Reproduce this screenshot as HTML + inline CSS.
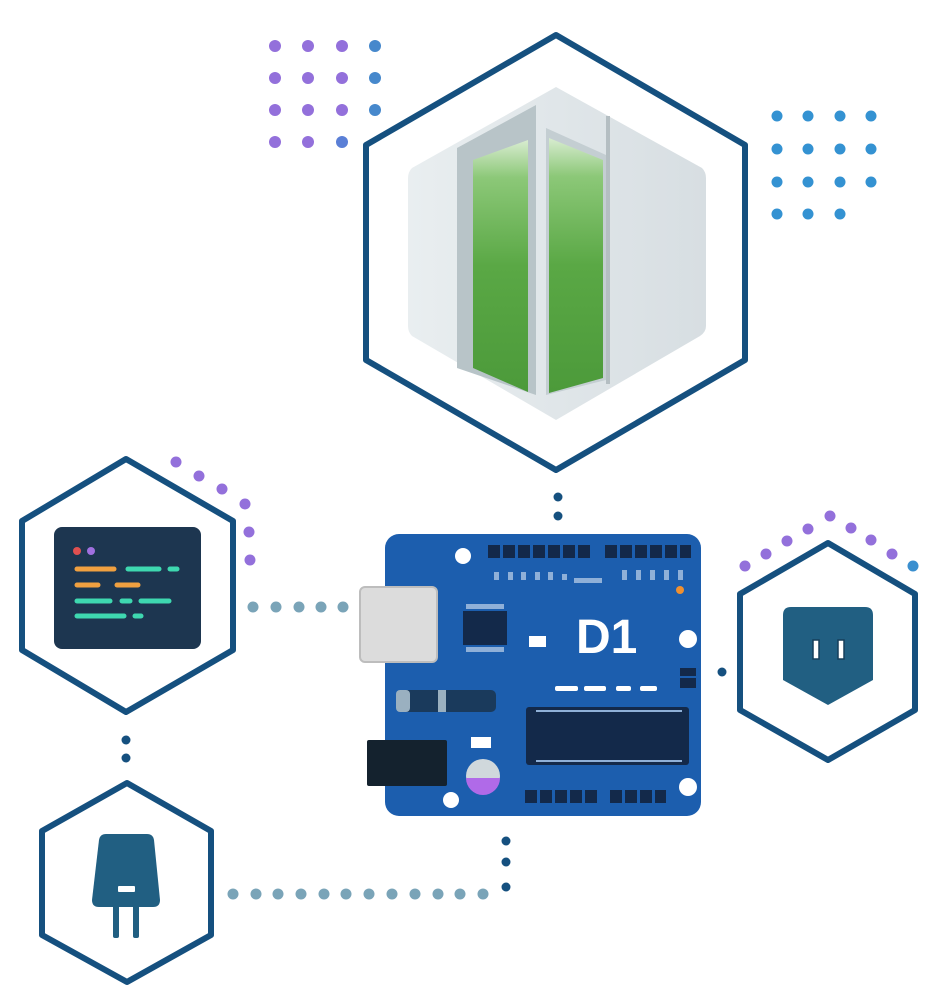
<!DOCTYPE html>
<html><head><meta charset="utf-8"><style>html,body{margin:0;padding:0;background:#fff;width:945px;height:987px;overflow:hidden}</style></head>
<body>
<svg width="945" height="987" viewBox="0 0 945 987" xmlns="http://www.w3.org/2000/svg">
<defs>
<linearGradient id="gr" x1="0" y1="0" x2="0" y2="1">
<stop offset="0" stop-color="#d8ecd0"/><stop offset="0.15" stop-color="#8cc878"/><stop offset="0.5" stop-color="#5aa845"/><stop offset="1" stop-color="#4c9a3a"/></linearGradient>
<linearGradient id="gl" x1="0" y1="0" x2="1" y2="0">
<stop offset="0" stop-color="#e9eef0"/><stop offset="1" stop-color="#d7dee2"/></linearGradient>
<pattern id="pins" x="488" y="0" width="14.6" height="20" patternUnits="userSpaceOnUse"><rect x="0" y="0" width="12" height="20" fill="#13294a"/></pattern>
</defs>
<g fill="none" stroke="#15507f" stroke-width="6" stroke-linejoin="round">
<path d="M556,35 L745,145 L745,360 L556,470 L366,360 L366,145 Z"/>
<path d="M126,459 L233,521 L233,650 L126,712 L22,650 L22,521 Z"/>
<path d="M127,783 L211,831 L211,935 L127,982 L42,935 L42,831 Z"/>
<path d="M828,543 L915,594 L915,710 L828,760 L740,710 L740,594 Z"/>
</g>
<path d="M556,87 L702,168 Q706,172 706,178 L706,326 Q706,332 700,336 L556,420 L412,336 Q408,332 408,326 L408,178 Q408,172 412,168 Z" fill="url(#gl)"/>
<path d="M457,148 L536,105 L536,395 L457,368 Z" fill="#b8c4c8"/>
<path d="M473,160 L528,140 L528,392 L473,368 Z" fill="url(#gr)"/>
<path d="M546,128 L606,155 L606,380 L546,395 Z" fill="#c4ced2"/>
<path d="M549,138 L603,160 L603,378 L549,393 Z" fill="url(#gr)"/>
<rect x="606" y="116" width="4" height="268" fill="#b4bec2"/>
<g fill="#9370db">
<circle cx="275" cy="46" r="6"/><circle cx="308" cy="46" r="6"/><circle cx="342" cy="46" r="6"/>
<circle cx="275" cy="78" r="6"/><circle cx="308" cy="78" r="6"/><circle cx="342" cy="78" r="6"/>
<circle cx="275" cy="110" r="6"/><circle cx="308" cy="110" r="6"/><circle cx="342" cy="110" r="6"/>
<circle cx="275" cy="142" r="6"/><circle cx="308" cy="142" r="6"/>
</g>
<g fill="#4688cc"><circle cx="375" cy="46" r="6"/><circle cx="375" cy="78" r="6"/><circle cx="375" cy="110" r="6"/><circle cx="342" cy="142" r="6" fill="#5a7fd6"/></g>
<g fill="#3492d2">
<circle cx="777" cy="116" r="5.5"/><circle cx="808" cy="116" r="5.5"/><circle cx="840" cy="116" r="5.5"/><circle cx="871" cy="116" r="5.5"/>
<circle cx="777" cy="149" r="5.5"/><circle cx="808" cy="149" r="5.5"/><circle cx="840" cy="149" r="5.5"/><circle cx="871" cy="149" r="5.5"/>
<circle cx="777" cy="182" r="5.5"/><circle cx="808" cy="182" r="5.5"/><circle cx="840" cy="182" r="5.5"/><circle cx="871" cy="182" r="5.5"/>
<circle cx="777" cy="214" r="5.5"/><circle cx="808" cy="214" r="5.5"/><circle cx="840" cy="214" r="5.5"/>
</g>
<g fill="#9370db">
<circle cx="176" cy="462" r="5.5"/><circle cx="199" cy="476" r="5.5"/><circle cx="222" cy="489" r="5.5"/><circle cx="245" cy="504" r="5.5"/><circle cx="249" cy="532" r="5.5"/><circle cx="250" cy="560" r="5.5"/>
<circle cx="745" cy="566" r="5.5"/><circle cx="766" cy="554" r="5.5"/><circle cx="787" cy="541" r="5.5"/><circle cx="808" cy="529" r="5.5"/><circle cx="830" cy="516" r="5.5"/><circle cx="851" cy="528" r="5.5"/><circle cx="871" cy="540" r="5.5"/><circle cx="892" cy="554" r="5.5"/>
</g>
<circle cx="913" cy="566" r="5.5" fill="#3a8fcf"/>
<g fill="#15507f">
<circle cx="558" cy="497" r="4.5"/><circle cx="558" cy="516" r="4.5"/>
<circle cx="126" cy="740" r="4.5"/><circle cx="126" cy="758" r="4.5"/>
<circle cx="722" cy="672" r="4.5"/>
<circle cx="506" cy="841" r="4.5"/><circle cx="506" cy="862" r="4.5"/><circle cx="506" cy="887" r="4.5"/>
</g>
<g fill="#7aa4b8">
<circle cx="253" cy="607" r="5.5"/><circle cx="276" cy="607" r="5.5"/><circle cx="299" cy="607" r="5.5"/><circle cx="321" cy="607" r="5.5"/><circle cx="343" cy="607" r="5.5"/>
<circle cx="233" cy="894" r="5.5"/><circle cx="256" cy="894" r="5.5"/><circle cx="278" cy="894" r="5.5"/><circle cx="301" cy="894" r="5.5"/><circle cx="324" cy="894" r="5.5"/><circle cx="346" cy="894" r="5.5"/><circle cx="369" cy="894" r="5.5"/><circle cx="392" cy="894" r="5.5"/><circle cx="415" cy="894" r="5.5"/><circle cx="438" cy="894" r="5.5"/><circle cx="460" cy="894" r="5.5"/><circle cx="483" cy="894" r="5.5"/>
</g>
<rect x="54" y="527" width="147" height="122" rx="8" fill="#1d3650"/>
<circle cx="77" cy="551" r="4" fill="#e05050"/><circle cx="91" cy="551" r="4" fill="#a070e0"/>
<g stroke-width="5" stroke-linecap="round">
<g stroke="#f0a040"><line x1="77" y1="569" x2="114" y2="569"/><line x1="77" y1="585" x2="98" y2="585"/><line x1="117" y1="585" x2="138" y2="585"/></g>
<g stroke="#3ed8b0"><line x1="128" y1="569" x2="159" y2="569"/><line x1="170" y1="569" x2="177" y2="569"/><line x1="77" y1="601" x2="110" y2="601"/><line x1="122" y1="601" x2="130" y2="601"/><line x1="141" y1="601" x2="169" y2="601"/><line x1="77" y1="616" x2="124" y2="616"/><line x1="135" y1="616" x2="141" y2="616"/></g>
</g>
<path d="M791,607 L865,607 Q873,607 873,615 L873,680 L828,705 L783,680 L783,615 Q783,607 791,607 Z" fill="#215f82"/>
<rect x="813" y="640" width="6" height="19" fill="#fff" stroke="#163f5a" stroke-width="1.5"/>
<rect x="838" y="640" width="6" height="19" fill="#fff" stroke="#163f5a" stroke-width="1.5"/>
<path d="M106,834 L147,834 Q153,834 154,840 L160,900 Q160,907 153,907 L99,907 Q92,907 92,900 L99,840 Q100,834 106,834 Z" fill="#215f82"/>
<rect x="118" y="886" width="17" height="6" fill="#fff" rx="1"/>
<rect x="113" y="905" width="6" height="33" rx="2" fill="#215f82"/><rect x="133" y="905" width="6" height="33" rx="2" fill="#215f82"/>
<rect x="385" y="534" width="316" height="282" rx="14" fill="#1c5eae"/>
<g fill="#fff"><circle cx="463" cy="556" r="8"/><circle cx="688" cy="639" r="9"/><circle cx="688" cy="787" r="9"/><circle cx="451" cy="800" r="8"/></g>
<g fill="#13294a">
<rect x="488" y="545" width="12" height="13"/><rect x="503" y="545" width="12" height="13"/><rect x="518" y="545" width="12" height="13"/><rect x="533" y="545" width="12" height="13"/><rect x="548" y="545" width="12" height="13"/><rect x="563" y="545" width="12" height="13"/><rect x="578" y="545" width="12" height="13"/>
<rect x="605" y="545" width="12" height="13"/><rect x="620" y="545" width="12" height="13"/><rect x="635" y="545" width="12" height="13"/><rect x="650" y="545" width="12" height="13"/><rect x="665" y="545" width="12" height="13"/><rect x="680" y="545" width="11" height="13"/>
<rect x="525" y="790" width="12" height="13"/><rect x="540" y="790" width="12" height="13"/><rect x="555" y="790" width="12" height="13"/><rect x="570" y="790" width="12" height="13"/><rect x="585" y="790" width="12" height="13"/>
<rect x="610" y="790" width="12" height="13"/><rect x="625" y="790" width="12" height="13"/><rect x="640" y="790" width="12" height="13"/><rect x="655" y="790" width="11" height="13"/>
<rect x="463" y="611" width="44" height="34"/>
<rect x="526" y="707" width="163" height="58" rx="3"/>
<rect x="367" y="740" width="80" height="46" rx="2" fill="#14222e"/>
<rect x="680" y="668" width="16" height="8"/><rect x="680" y="678" width="16" height="10"/>
</g>
<rect x="360" y="587" width="77" height="75" rx="5" fill="#dcdcdc" stroke="#bdbdbd" stroke-width="2"/>
<g fill="#fff"><rect x="529" y="636" width="17" height="11"/><rect x="555" y="686" width="23" height="5" rx="2"/><rect x="584" y="686" width="22" height="5" rx="2"/><rect x="616" y="686" width="15" height="5" rx="2"/><rect x="640" y="686" width="17" height="5" rx="2"/><rect x="471" y="737" width="20" height="11"/></g>
<text x="576" y="653" font-family="Liberation Sans, sans-serif" font-weight="bold" font-size="48" fill="#fff">D1</text>
<rect x="396" y="690" width="100" height="22" rx="5" fill="#1a3a5c"/>
<rect x="396" y="690" width="14" height="22" rx="4" fill="#9ab0c0"/><rect x="438" y="690" width="8" height="22" fill="#9ab0c0"/>
<circle cx="483" cy="776" r="17" fill="#d0d8dc"/><path d="M466,778 L500,778 A17,17 0 0 1 466,778 Z" fill="#b06ae8"/>
<circle cx="680" cy="590" r="4" fill="#f09030"/>
<g fill="#8fb0d8"><rect x="494" y="572" width="5" height="8"/><rect x="508" y="572" width="5" height="8"/><rect x="521" y="572" width="5" height="8"/><rect x="535" y="572" width="5" height="8"/><rect x="548" y="572" width="5" height="8"/><rect x="562" y="574" width="5" height="6"/><rect x="574" y="578" width="28" height="5"/><rect x="622" y="570" width="5" height="10"/><rect x="636" y="570" width="5" height="10"/><rect x="650" y="570" width="5" height="10"/><rect x="664" y="570" width="5" height="10"/><rect x="678" y="570" width="5" height="10"/></g>
<g fill="#8fb0d8"><rect x="466" y="604" width="38" height="5"/><rect x="466" y="647" width="38" height="5"/><rect x="536" y="710" width="146" height="2"/><rect x="536" y="760" width="146" height="2"/></g>
</svg>
</body></html>
